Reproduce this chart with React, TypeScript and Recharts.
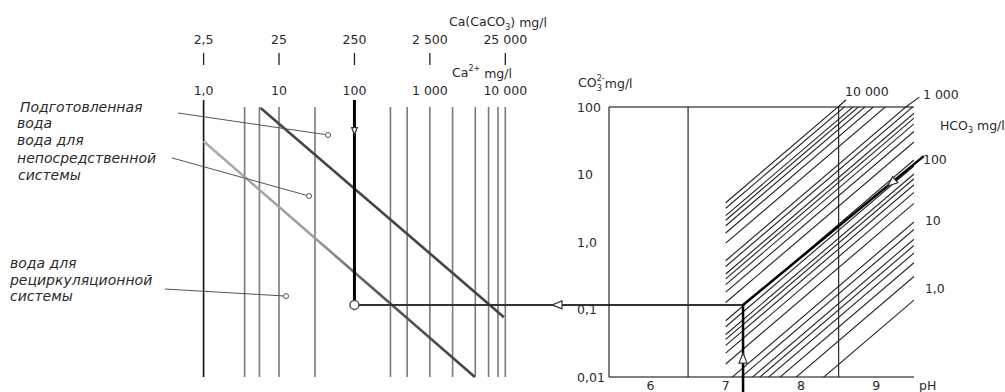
import React from 'react';
import { ComposedChart, Line, XAxis, YAxis, ReferenceLine, ReferenceDot } from 'recharts';

// right chart: CO3 (log) against pH
const phDomain = [5.45, 9.5];
const phTicks = [6, 7, 8, 9];
const phLabelCo3 = 0.0076; // level of the pH tick labels, just under the axis
const phGridLines = [6.5, 8.5];
const co3Domain = [0.01, 100];
const co3Ticks = [0.01, 0.1, 1, 10, 100];
const co3TickLabels = ['0,01', '0,1', '1,0', '10', '100'];

// left nomogram: Ca2+ and Ca(CaCO3) log scales, sharing the plot width with pH
const caDomain = [2.37e5, 2.62e9];
const caco3Domain = [5.925e5, 6.55e9];
const caGrayLines = [3.5, 5.5, 10, 30, 300, 500, 1000, 2000, 4000, 6000, 8000, 10000];
const caTickValues = [1, 10, 100, 1000, 10000];
const caTickLabels = ['1,0', '10', '100', '1 000', '10 000'];
const caco3TickValues = [2.5, 25, 250, 2500, 25000];
const caco3TickLabels = ['2,5', '25', '250', '2 500', '25 000'];

// HCO3 family of lines: CO3 at pH 7 and at pH 9.5
const hco3Values = [1, 2, 3, 4, 5, 6, 8, 10, 20, 30, 40, 50, 60, 80, 100, 200, 300, 400, 500, 600, 800, 1000, 2000, 3000, 4000, 5000, 6000, 8000, 10000];
const co3AtPh7 = [0.000575, 0.00128, 0.00205, 0.00286, 0.00369, 0.00456, 0.00635, 0.00823, 0.0156, 0.0226, 0.0294, 0.0361, 0.0426, 0.0556, 0.0682, 0.127, 0.181, 0.234, 0.285, 0.336, 0.434, 0.528, 0.96, 1.36, 1.74, 2.1, 2.46, 3.16, 3.82];
const co3AtPh95 = [0.138, 0.308, 0.492, 0.687, 0.888, 1.1, 1.53, 1.98, 3.74, 5.43, 7.06, 8.67, 10.2, 13.4, 16.4, 30.4, 43.5, 56.2, 68.5, 80.7, 104, 127, 231, 327, 418, 505, 592, 759, 918];

// diagonals of the left part (Ca, CO3)
const preparedLine = [{ ca: 5.7, co3: 97 }, { ca: 9600, co3: 0.077 }];
const directLine = [{ ca: 1.0, co3: 31 }, { ca: 3950, co3: 0.01 }];
const leaders = [
  { x1: 0.458, y1: 81.5, x2: 44.6, y2: 38.5 },
  { x1: 0.381, y1: 17.6, x2: 25, y2: 4.8 },
  { x1: 0.308, y1: 0.201, x2: 12.4, y2: 0.158 },
];

// worked example
const example = { ca: 100, co3: 0.117, ph: 7.23 };
const exampleEnd = { ph: 9.63, co3: 18.7 };
const belowAxisCo3 = 0.006;
const aboveBoxCo3 = 127;
const lineExtensions = [
  { x1: 8.49, y1: 100, x2: 8.6, y2: 128 },
  { x1: 9.39, y1: 100, x2: 9.57, y2: 140 },
];
const arrows = [
  { axis: 'ph', x: 4.76, y: 0.117, angle: 180, size: 5 },
  { axis: 'ph', x: 7.23, y: 0.0191, angle: -90, size: 5 },
  { axis: 'ph', x: 9.2, y: 7.5, angle: 139.6, size: 5 },
  { axis: 'ca', x: 100, y: 44, angle: 90, size: 3.5 },
];

const lg = Math.log10;
const caToPh = (ca: number) =>
  phDomain[0] + ((lg(ca) - lg(caDomain[0])) / (lg(caDomain[1]) - lg(caDomain[0]))) * (phDomain[1] - phDomain[0]);

const FONT = 'DejaVu Sans';
const TXT = '#2a2a2a';

const textShape = (content: React.ReactNode, anchor = 'start', extra: any = {}) => (p: any) => (
  <text x={p.cx} y={p.cy} textAnchor={anchor} dominantBaseline="central" fontFamily={FONT} fontSize={12.5} fill={TXT} {...extra}>
    {content}
  </text>
);

const arrowShape = (angle: number, s: number) => (p: any) => (
  <polygon
    points={`${s},0 ${-s},${-s * 0.8} ${-s},${s * 0.8}`}
    transform={`translate(${p.cx},${p.cy}) rotate(${angle})`}
    fill="#fff"
    stroke="#333"
    strokeWidth={1.2}
  />
);

const italic = { fontSize: 14, fontStyle: 'italic' };

const leftTexts = [
  { x: 0.00368, y: 101, t: 'Подготовленная' },
  { x: 0.00336, y: 58.5, t: 'вода' },
  { x: 0.00336, y: 32.4, t: 'вода для' },
  { x: 0.00336, y: 17.7, t: 'непосредственной' },
  { x: 0.00346, y: 9.83, t: 'системы' },
  { x: 0.00271, y: 0.489, t: 'вода для' },
  { x: 0.00271, y: 0.2735, t: 'рециркуляционной' },
  { x: 0.00271, y: 0.1585, t: 'системы' },
];

const rightTexts = [
  { x: 8.584, y: 168.5, t: '10 000' },
  { x: 9.619, y: 155.8, t: '1 000' },
  { x: 9.619, y: 16.4, t: '100' },
  { x: 9.645, y: 2.07, t: '10' },
  { x: 9.645, y: 0.208, t: '1,0' },
  { x: 9.566, y: 0.0076, t: 'pH' },
];

const Co3Tick = (props: any) => {
  const { x, y, payload } = props;
  const i = co3Ticks.indexOf(payload.value);
  return (
    <text x={x - 32} y={y} textAnchor="start" dominantBaseline="central" fontFamily={FONT} fontSize={12.5} fill={TXT}>
      {co3TickLabels[i]}
    </text>
  );
};

export default function App() {
  return (
    <div style={{ position: 'absolute', left: 0, top: 0, width: 1005, height: 392, background: '#fff' }}>
      <ComposedChart width={1005} height={392} margin={{ top: 107, right: 91, bottom: 0, left: 569 }}>
        <defs>
          <linearGradient id="directGrad" x1="0" y1="0" x2="1" y2="0">
            <stop offset="0%" stopColor="#ababab" />
            <stop offset="42%" stopColor="#9a9a9a" />
            <stop offset="62%" stopColor="#5a5a5a" />
            <stop offset="100%" stopColor="#444" />
          </linearGradient>
        </defs>
        <XAxis
          xAxisId="ph"
          dataKey="ph"
          type="number"
          domain={phDomain}
          allowDataOverflow
          ticks={phTicks}
          tick={false}
          tickLine={false}
          height={15}
          stroke="#000"
        />
        <XAxis xAxisId="ca" dataKey="ca" type="number" scale="log" domain={caDomain} allowDataOverflow hide />
        <XAxis xAxisId="caco3" dataKey="caco3" type="number" scale="log" domain={caco3Domain} allowDataOverflow hide />
        <YAxis
          yAxisId="co3"
          type="number"
          scale="log"
          domain={co3Domain}
          allowDataOverflow
          ticks={co3Ticks}
          interval={0}
          width={40}
          tickLine={false}
          tickSize={0}
          tickMargin={0}
          stroke="#000"
          tick={<Co3Tick />}
        />

        {/* the Ca scales need a series of their own to be set up; these lie outside the plot and are clipped */}
        <Line
          xAxisId="ca"
          yAxisId="co3"
          data={caTickValues.map((v) => ({ ca: v, co3: 178 }))}
          dataKey="co3"
          stroke="none"
          dot={false}
          activeDot={false}
          isAnimationActive={false}
        />
        <Line
          xAxisId="caco3"
          yAxisId="co3"
          data={caco3TickValues.map((v) => ({ caco3: v, co3: 1017 }))}
          dataKey="co3"
          stroke="none"
          dot={false}
          activeDot={false}
          isAnimationActive={false}
        />

        {/* box of the pH chart */}
        <ReferenceLine xAxisId="ph" yAxisId="co3" y={100} stroke="#000" strokeWidth={1} />
        <ReferenceLine xAxisId="ph" yAxisId="co3" y={0.01} stroke="#000" strokeWidth={1.2} />
        {phGridLines.map((v) => (
          <ReferenceLine key={`g${v}`} xAxisId="ph" yAxisId="co3" x={v} stroke="#000" strokeWidth={1} />
        ))}

        {/* HCO3 lines */}
        {hco3Values.map((h, i) => (
          <Line
            key={`h${h}`}
            xAxisId="ph"
            yAxisId="co3"
            data={[{ ph: 7, co3: co3AtPh7[i] }, { ph: 9.5, co3: co3AtPh95[i] }]}
            dataKey="co3"
            stroke="#222"
            strokeWidth={1.1}
            dot={false}
            activeDot={false}
            isAnimationActive={false}
          />
        ))}
        {lineExtensions.map((e, i) => (
          <ReferenceLine
            key={`e${i}`}
            xAxisId="ph"
            yAxisId="co3"
            segment={[{ x: e.x1, y: e.y1 }, { x: e.x2, y: e.y2 }]}
            stroke="#222"
            strokeWidth={1.1}
            ifOverflow="visible"
          />
        ))}

        {/* left nomogram: Ca lines */}
        {caGrayLines.map((v) => (
          <ReferenceLine key={`c${v}`} xAxisId="ca" yAxisId="co3" x={v} stroke="#7a7a7a" strokeWidth={1.6} ifOverflow="visible" />
        ))}
        <ReferenceLine
          xAxisId="ca"
          yAxisId="co3"
          segment={[{ x: 1, y: aboveBoxCo3 }, { x: 1, y: 0.01 }]}
          stroke="#111"
          strokeWidth={1.6}
          ifOverflow="visible"
        />
        {caco3TickValues.map((v) => (
          <ReferenceLine
            key={`t${v}`}
            xAxisId="caco3"
            yAxisId="co3"
            segment={[{ x: v, y: 631 }, { x: v, y: 419 }]}
            stroke="#222"
            strokeWidth={1.3}
            ifOverflow="visible"
          />
        ))}

        {/* diagonals */}
        <ReferenceLine
          xAxisId="ca"
          yAxisId="co3"
          segment={[{ x: directLine[0].ca, y: directLine[0].co3 }, { x: directLine[1].ca, y: directLine[1].co3 }]}
          stroke="url(#directGrad)"
          strokeWidth={2.6}
          ifOverflow="visible"
        />
        <ReferenceLine
          xAxisId="ca"
          yAxisId="co3"
          segment={[{ x: preparedLine[0].ca, y: preparedLine[0].co3 }, { x: preparedLine[1].ca, y: preparedLine[1].co3 }]}
          stroke="#454545"
          strokeWidth={2.6}
          ifOverflow="visible"
        />
        {leaders.map((l, i) => (
          <ReferenceLine
            key={`l${i}`}
            xAxisId="ca"
            yAxisId="co3"
            segment={[{ x: l.x1, y: l.y1 }, { x: l.x2, y: l.y2 }]}
            stroke="#555"
            strokeWidth={1}
            ifOverflow="visible"
          />
        ))}

        {/* worked example */}
        <ReferenceLine
          xAxisId="ca"
          yAxisId="co3"
          segment={[{ x: example.ca, y: aboveBoxCo3 }, { x: example.ca, y: example.co3 }]}
          stroke="#000"
          strokeWidth={3}
          ifOverflow="visible"
        />
        <ReferenceLine
          xAxisId="ph"
          yAxisId="co3"
          segment={[{ x: caToPh(example.ca), y: example.co3 }, { x: example.ph, y: example.co3 }]}
          stroke="#333"
          strokeWidth={2}
          ifOverflow="visible"
        />
        <ReferenceLine
          xAxisId="ph"
          yAxisId="co3"
          segment={[{ x: example.ph, y: belowAxisCo3 }, { x: example.ph, y: example.co3 }]}
          stroke="#000"
          strokeWidth={2.5}
          ifOverflow="visible"
        />
        <ReferenceLine
          xAxisId="ph"
          yAxisId="co3"
          segment={[{ x: example.ph, y: example.co3 }, { x: exampleEnd.ph, y: exampleEnd.co3 }]}
          stroke="#000"
          strokeWidth={2.5}
          ifOverflow="visible"
        />

        {arrows.map((a, i) => (
          <ReferenceDot
            key={`a${i}`}
            xAxisId={a.axis}
            yAxisId="co3"
            x={a.x}
            y={a.y}
            ifOverflow="visible"
            shape={arrowShape(a.angle, a.size)}
          />
        ))}
        {leaders.map((l, i) => (
          <ReferenceDot key={`ld${i}`} xAxisId="ca" yAxisId="co3" x={l.x2} y={l.y2} r={2.5} fill="#fff" stroke="#555" strokeWidth={1} ifOverflow="visible" />
        ))}
        <ReferenceDot xAxisId="ca" yAxisId="co3" x={example.ca} y={example.co3} r={4.5} fill="#fff" stroke="#555" strokeWidth={1.5} ifOverflow="visible" />

        {/* texts */}
        {phTicks.map((v) => (
          <ReferenceDot key={`p${v}`} xAxisId="ph" yAxisId="co3" x={v} y={phLabelCo3} ifOverflow="visible" shape={textShape(String(v), 'middle')} />
        ))}
        {caTickValues.map((v, i) => (
          <ReferenceDot key={`ct${v}`} xAxisId="ca" yAxisId="co3" x={v} y={178} ifOverflow="visible" shape={textShape(caTickLabels[i], 'middle')} />
        ))}
        {caco3TickValues.map((v, i) => (
          <ReferenceDot key={`cc${v}`} xAxisId="caco3" yAxisId="co3" x={v} y={1017} ifOverflow="visible" shape={textShape(caco3TickLabels[i], 'middle')} />
        ))}
        <ReferenceDot
          xAxisId="ca"
          yAxisId="co3"
          x={1792}
          y={1817}
          ifOverflow="visible"
          shape={textShape(
            <>
              Ca(CaCO
              <tspan dy={5} fontSize={8}>3</tspan>
              <tspan dy={-5}>)  mg/l</tspan>
            </>,
            'start'
          )}
        />
        <ReferenceDot
          xAxisId="ca"
          yAxisId="co3"
          x={1964}
          y={319}
          ifOverflow="visible"
          shape={textShape(
            <>
              Ca
              <tspan dy={-5} fontSize={8}>2+</tspan>
              <tspan dy={5}> mg/l</tspan>
            </>,
            'start'
          )}
        />
        {leftTexts.map((t, i) => (
          <ReferenceDot key={`lt${i}`} xAxisId="ca" yAxisId="co3" x={t.x} y={t.y} ifOverflow="visible" shape={textShape(t.t, 'start', italic)} />
        ))}
        <ReferenceDot
          xAxisId="ph"
          yAxisId="co3"
          x={5.04}
          y={227}
          ifOverflow="visible"
          shape={textShape(
            <>
              CO
              <tspan dy={5} fontSize={8}>3</tspan>
              <tspan dx={-5} dy={-10} fontSize={8}>2-</tspan>
              <tspan dy={5}>mg/l</tspan>
            </>
          )}
        />
        <ReferenceDot
          xAxisId="ph"
          yAxisId="co3"
          x={9.845}
          y={54.1}
          ifOverflow="visible"
          shape={textShape(
            <>
              HCO
              <tspan dy={5} fontSize={8}>3</tspan>
              <tspan dy={-5}> mg/l</tspan>
            </>
          )}
        />
        {rightTexts.map((t, i) => (
          <ReferenceDot key={`rt${i}`} xAxisId="ph" yAxisId="co3" x={t.x} y={t.y} ifOverflow="visible" shape={textShape(t.t)} />
        ))}
      </ComposedChart>
    </div>
  );
}
